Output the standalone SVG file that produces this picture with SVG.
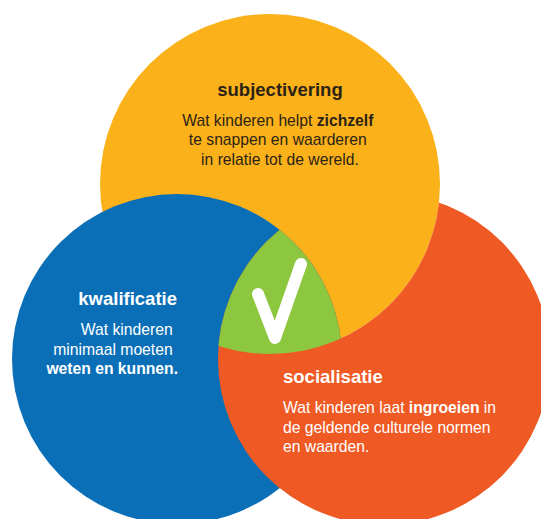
<svg xmlns="http://www.w3.org/2000/svg" width="541" height="519" viewBox="0 0 541 519">
  <style>
    .title { font-family: "Liberation Sans", Arial, sans-serif; font-weight: bold; font-size: 18.5px; }
    .body { font-family: "Liberation Sans", Arial, sans-serif; font-size: 15.7px; }
    .b { font-weight: bold; }
    .dark { fill: #2b2316; }
    .light { fill: #ffffff; }
  </style>
  <defs>
    <clipPath id="clipBlue"><circle cx="177" cy="359" r="165"/></clipPath>
    <clipPath id="clipOrange"><circle cx="384" cy="359" r="166"/></clipPath>
    <mask id="maskOrange" maskUnits="userSpaceOnUse" x="0" y="0" width="541" height="519">
      <rect x="0" y="0" width="541" height="519" fill="#fff"/>
      <circle cx="270" cy="184" r="170" fill="#000"/>
      <circle cx="177" cy="359" r="165" fill="#fff"/>
    </mask>
  </defs>
  <rect width="541" height="519" fill="#ffffff"/>

  <g id="subjectivering">
    <circle cx="270" cy="184" r="170" fill="#FBB21A"/>
    <text class="title dark" x="280" y="96" text-anchor="middle">subjectivering</text>
    <text class="body dark" text-anchor="middle">
      <tspan x="280" y="125.5">Wat kinderen helpt <tspan class="b">zichzelf</tspan></tspan>
      <tspan x="280" y="145">te snappen en waarderen</tspan>
      <tspan x="280" y="164.5">in relatie tot de wereld.</tspan>
    </text>
  </g>

  <g id="kwalificatie">
    <circle cx="177" cy="359" r="165" fill="#0A6FB7"/>
    <text class="title light" x="177" y="305" text-anchor="end">kwalificatie</text>
    <text class="body light" text-anchor="end">
      <tspan x="177" y="335">Wat kinderen</tspan>
      <tspan x="177" y="354.5">minimaal moeten</tspan>
      <tspan x="178" y="374" class="b">weten en kunnen.</tspan>
    </text>
  </g>

  <g id="socialisatie">
    <circle cx="384" cy="359" r="166" fill="#EF5A24" mask="url(#maskOrange)"/>
    <text class="title light" x="283" y="383">socialisatie</text>
    <text class="body light">
      <tspan x="283" y="413">Wat kinderen laat <tspan class="b">ingroeien</tspan> in</tspan>
      <tspan x="283" y="432.5">de geldende culturele normen</tspan>
      <tspan x="283" y="452">en waarden.</tspan>
    </text>
  </g>

  <g id="overlap">
    <g clip-path="url(#clipOrange)">
      <circle cx="270" cy="184" r="170" fill="#8DC63F" clip-path="url(#clipBlue)"/>
    </g>
    <polyline points="258,294 275,338 301,264" fill="none" stroke="#ffffff" stroke-width="12" stroke-linecap="round" stroke-linejoin="round"/>
  </g>
</svg>
